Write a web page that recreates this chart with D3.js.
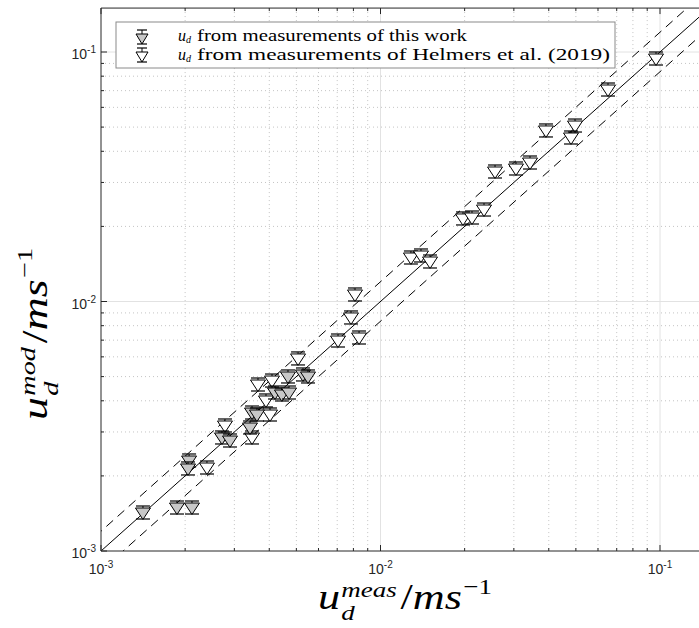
<!DOCTYPE html>
<html><head><meta charset="utf-8">
<script src="https://cdn.jsdelivr.net/npm/d3@7"></script>
<style>body{margin:0;background:#fff}svg{display:block}</style>
</head><body><div id="chart"></div>
<script>
// this work (gray filled)
const thisWorkX = [1.413e-3,1.870e-3,2.116e-3,2.066e-3,2.048e-3,2.71e-3,2.894e-3,3.413e-3,3.47e-3,3.614e-3,4.194e-3,4.44e-3,4.707e-3,4.667e-3,5.28e-3,5.503e-3];
const thisWorkY = [1.42e-3,1.487e-3,1.487e-3,2.295e-3,2.132e-3,2.838e-3,2.76e-3,3.112e-3,3.573e-3,3.508e-3,4.298e-3,4.22e-3,4.298e-3,4.983e-3,5.076e-3,4.983e-3];
// Helmers et al. (2019) (white)
const helmersX = [2.394e-3,2.777e-3,3.47e-3,4.024e-3,3.893e-3,3.645e-3,4.091e-3,5.07e-3,7.047e-3,8.379e-3,7.843e-3,8.105e-3,1.285e-2,1.396e-2,1.504e-2,1.973e-2,2.125e-2,2.346e-2,2.569e-2,3.053e-2,3.427e-2,3.909e-2,4.965e-2,4.804e-2,6.516e-2,9.676e-2];
const helmersY = [2.151e-3,3.17e-3,2.838e-3,3.508e-3,3.993e-3,4.627e-3,4.8e-3,5.885e-3,6.945e-3,7.14e-3,8.59e-3,1.062e-2,1.494e-2,1.522e-2,1.44e-2,2.142e-2,2.161e-2,2.326e-2,3.304e-2,3.397e-2,3.59e-2,4.825e-2,5.05e-2,4.522e-2,7.041e-2,9.374e-2];
const majorTicks = [1e-3,1e-2,1e-1];
const tickExponents = ["-3","-2","-1"];
const legendLabels = ["from measurements of this work","from measurements of Helmers et al. (2019)"];
const domain = [1e-3, 0.15];
const bandFactor = 1.2;

const W=699,H=628;
const L=101,B=551;
const decX=279.5, decY=249.5;
const span=Math.log10(domain[1]/domain[0]);
const x=d3.scaleLog().domain(domain).range([L, L+decX*span]);
const y=d3.scaleLog().domain(domain).range([B, B-decY*span]);
const R=x.range()[1], T=y.range()[1];

const svg=d3.select("#chart").append("svg").attr("width",W).attr("height",H);
svg.append("defs").append("clipPath").attr("id","clip").append("rect")
  .attr("x",L).attr("y",T).attr("width",R-L).attr("height",B-T);

const minor=[];
for(let e=-3;e<=-1;e++) for(let m=2;m<=9;m++){const v=m*Math.pow(10,e); if(v<domain[1]) minor.push(v);}

const g=svg.append("g");
g.selectAll(".mgx").data(minor).join("line").attr("x1",d=>x(d)).attr("x2",d=>x(d)).attr("y1",T).attr("y2",B)
 .attr("stroke","#c4c4c4").attr("stroke-width",1).attr("stroke-dasharray","1,3");
g.selectAll(".mgy").data(minor).join("line").attr("y1",d=>y(d)).attr("y2",d=>y(d)).attr("x1",L).attr("x2",R)
 .attr("stroke","#c4c4c4").attr("stroke-width",1).attr("stroke-dasharray","1,3");
g.selectAll(".Mgx").data(majorTicks.slice(1)).join("line").attr("x1",d=>x(d)).attr("x2",d=>x(d)).attr("y1",T).attr("y2",B)
 .attr("stroke","#e2e2e2").attr("stroke-width",1);
g.selectAll(".Mgy").data(majorTicks.slice(1)).join("line").attr("y1",d=>y(d)).attr("y2",d=>y(d)).attr("x1",L).attr("x2",R)
 .attr("stroke","#e2e2e2").attr("stroke-width",1);

const cg=svg.append("g").attr("clip-path","url(#clip)");
const lineXs=[domain[0]/2, domain[1]*2];
const ln=d3.line().x(d=>x(d[0])).y(d=>y(d[1]));
cg.append("path").attr("d",ln(lineXs.map(v=>[v,v]))).attr("stroke","#000").attr("stroke-width",1).attr("fill","none");
cg.append("path").attr("d",ln(lineXs.map(v=>[v,v*bandFactor]))).attr("stroke","#000").attr("stroke-width",1).attr("fill","none").attr("stroke-dasharray","9,6");
cg.append("path").attr("d",ln(lineXs.map(v=>[v,v/bandFactor]))).attr("stroke","#000").attr("stroke-width",1).attr("fill","none").attr("stroke-dasharray","9,6");

function marker(sel,cx,cy,fill){
  const gg=sel.append("g").attr("transform",`translate(${cx},${cy})`);
  gg.append("line").attr("x1",0).attr("x2",0).attr("y1",-7).attr("y2",6).attr("stroke","#000").attr("stroke-width",1);
  gg.append("line").attr("x1",-7).attr("x2",7).attr("y1",-7).attr("y2",-7).attr("stroke","#000").attr("stroke-width",1.2);
  gg.append("line").attr("x1",-7).attr("x2",7).attr("y1",6).attr("y2",6).attr("stroke","#000").attr("stroke-width",1.2);
  gg.append("path").attr("d","M-7.5,-5L7.5,-5L0,6.5Z").attr("fill",fill).attr("stroke","#000").attr("stroke-width",1);
}
const pg=svg.append("g");
helmersX.forEach((v,i)=>marker(pg,x(v),y(helmersY[i]),"#fff"));
thisWorkX.forEach((v,i)=>marker(pg,x(v),y(thisWorkY[i]),"#c8c8c8"));

const axc="#262626";
svg.append("line").attr("x1",L).attr("x2",R).attr("y1",B).attr("y2",B).attr("stroke",axc);
svg.append("line").attr("x1",L).attr("x2",R).attr("y1",T).attr("y2",T).attr("stroke",axc);
svg.append("line").attr("x1",L).attr("x2",L).attr("y1",T).attr("y2",B).attr("stroke",axc);
const tk=svg.append("g").attr("stroke",axc);
majorTicks.forEach(v=>{
  tk.append("line").attr("x1",x(v)).attr("x2",x(v)).attr("y1",B).attr("y2",B-6);
  tk.append("line").attr("x1",x(v)).attr("x2",x(v)).attr("y1",T).attr("y2",T+6);
  tk.append("line").attr("y1",y(v)).attr("y2",y(v)).attr("x1",L).attr("x2",L+6);
});
minor.forEach(v=>{
  tk.append("line").attr("x1",x(v)).attr("x2",x(v)).attr("y1",B).attr("y2",B-3);
  tk.append("line").attr("x1",x(v)).attr("x2",x(v)).attr("y1",T).attr("y2",T+3);
  tk.append("line").attr("y1",y(v)).attr("y2",y(v)).attr("x1",L).attr("x2",L+3);
});
const tf="'Liberation Sans', Arial, sans-serif";
majorTicks.forEach((v,i)=>{
  const t=svg.append("text").attr("x",x(v)).attr("y",B+23).attr("text-anchor","middle")
    .attr("font-family",tf).attr("font-size",14).attr("fill","#262626");
  t.append("tspan").text("10");
  t.append("tspan").attr("dy",-6).attr("font-size",10).text(tickExponents[i]);
  const t2=svg.append("text").attr("x",L-5).attr("y",y(v)+7).attr("text-anchor","end")
    .attr("font-family",tf).attr("font-size",14).attr("fill","#262626");
  t2.append("tspan").text("10");
  t2.append("tspan").attr("dy",-6).attr("font-size",10).text(tickExponents[i]);
});

// axis labels, fitted to reference extents (separate texts for base, sup, sub)
const mf="'Liberation Serif', 'Times New Roman', serif";
function mathLabel(outer,sup,targetW){
  const inner=outer.append("g");
  const u=inner.append("text").attr("font-family",mf).attr("font-size",36).attr("font-style","italic").text("u");
  const uw=u.node().getComputedTextLength();
  const s=inner.append("text").attr("x",uw+1).attr("y",-12).attr("font-family",mf).attr("font-size",22).attr("font-style","italic").text(sup);
  const sw=s.node().getComputedTextLength();
  inner.append("text").attr("x",uw+1).attr("y",11).attr("font-family",mf).attr("font-size",22).attr("font-style","italic").text("d");
  const r=inner.append("text").attr("x",uw+sw+4).attr("font-family",mf).attr("font-size",36);
  r.append("tspan").text("/");
  r.append("tspan").attr("font-style","italic").text("ms");
  const rw=r.node().getComputedTextLength();
  inner.append("text").attr("x",uw+sw+4+rw+1).attr("y",-15).attr("font-family",mf).attr("font-size",22).text("\u22121");
  const bb=inner.node().getBBox();
  inner.attr("transform",`scale(${targetW/bb.width},1)`);
}
mathLabel(svg.append("g").attr("transform","translate(318,609)"),"meas",174);
mathLabel(svg.append("g").attr("transform","translate(47,420) rotate(-90)"),"mod",172);

// legend
const lg=svg.append("g");
lg.append("rect").attr("x",116).attr("y",22).attr("width",499).attr("height",46).attr("fill","#fff").attr("stroke","#8a8a8a").attr("stroke-width",1);
const legFill=["#c8c8c8","#fff"];
const legEnd=[467,610];
const lf="'Liberation Serif', 'Times New Roman', serif";
legendLabels.forEach((s,i)=>{
  const cy=37+i*18;
  const base=41+i*19;
  const gg=lg.append("g").attr("transform",`translate(142,${cy})`);
  gg.append("line").attr("x1",0).attr("x2",0).attr("y1",-7).attr("y2",7).attr("stroke","#000");
  gg.append("line").attr("x1",-5).attr("x2",5).attr("y1",-7).attr("y2",-7).attr("stroke","#000").attr("stroke-width",1.2);
  gg.append("line").attr("x1",-5).attr("x2",5).attr("y1",7).attr("y2",7).attr("stroke","#000").attr("stroke-width",1.2);
  gg.append("path").attr("d","M-6,-3L6,-3L0,7Z").attr("fill",legFill[i]).attr("stroke","#000");
  const t=lg.append("text").attr("x",178).attr("y",base).attr("font-family",lf).attr("font-size",16).attr("fill","#000");
  t.append("tspan").attr("font-style","italic").attr("font-size",16).text("u");
  t.append("tspan").attr("font-style","italic").attr("font-size",10).attr("dy",2).text("d");
  lg.append("text").attr("x",197).attr("y",base).attr("font-family",lf).attr("font-size",16).attr("fill","#000")
    .attr("textLength",legEnd[i]-197).attr("lengthAdjust","spacingAndGlyphs").text(s);
});
</script></body></html>
